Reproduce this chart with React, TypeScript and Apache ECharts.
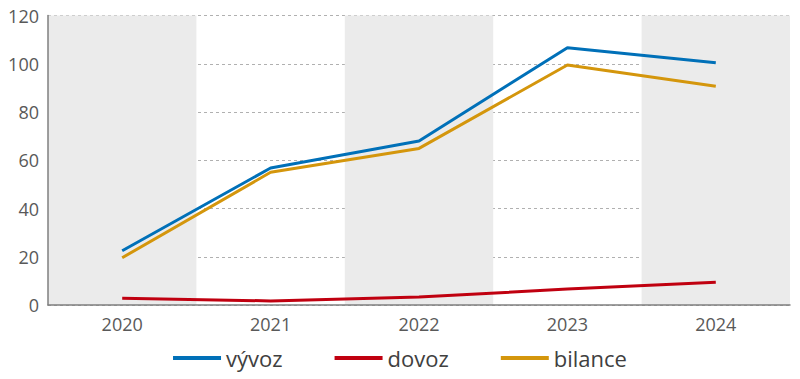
import React, { useEffect, useRef } from "react";
import * as echarts from "echarts";

const years = ["2020", "2021", "2022", "2023", "2024"];
const vyvoz = [22.5, 56.8, 68.0, 106.6, 100.4];
const dovoz = [2.8, 1.7, 3.3, 6.6, 9.4];
const bilance = [19.6, 55.0, 64.9, 99.5, 90.7];

const FONT = "Open Sans";

export default function App() {
  const ref = useRef<HTMLDivElement>(null);
  useEffect(() => {
    document.body.style.margin = "0";
    const chart = echarts.init(ref.current!, null, { renderer: "svg" });
    chart.setOption({
      animation: false,
      textStyle: { fontFamily: FONT },
      grid: { left: 48, right: 10, top: 15.5, bottom: 74 },
      legend: {
        bottom: 5,
        left: "center",
        itemWidth: 48,
        itemHeight: 4,
        itemGap: 52,
        icon: "rect",
        textStyle: { fontSize: 22, color: "#404040", fontFamily: FONT },
        data: ["vývoz", "dovoz", "bilance"],
      },
      xAxis: {
        type: "category",
        data: years,
        boundaryGap: true,
        axisLine: { lineStyle: { color: "#7f7f7f", width: 1.5 } },
        axisTick: { show: false },
        axisLabel: { fontSize: 18, color: "#595959", margin: 10 },
        splitArea: { show: true, areaStyle: { color: ["#ebebeb", "rgba(255,255,255,0)"] } },
      },
      yAxis: {
        type: "value",
        min: 0,
        max: 120,
        interval: 20,
        axisLine: { show: true, lineStyle: { color: "#7f7f7f", width: 1.5 } },
        axisTick: { show: false },
        axisLabel: { fontSize: 18, color: "#595959", margin: 9 },
        splitLine: { lineStyle: { color: "#b0b0b0", type: [3, 3], width: 1 } },
      },
      series: [
        { name: "vývoz", type: "line", data: vyvoz, symbol: "none", lineStyle: { color: "#0070b8", width: 3 }, itemStyle: { color: "#0070b8" }, z: 3 },
        { name: "dovoz", type: "line", data: dovoz, symbol: "none", lineStyle: { color: "#c00010", width: 3 }, itemStyle: { color: "#c00010" } },
        { name: "bilance", type: "line", data: bilance, symbol: "none", lineStyle: { color: "#d4960c", width: 3 }, itemStyle: { color: "#d4960c" } },
      ],
    });
    return () => chart.dispose();
  }, []);
  return <div ref={ref} style={{ width: 800, height: 379 }} />;
}
